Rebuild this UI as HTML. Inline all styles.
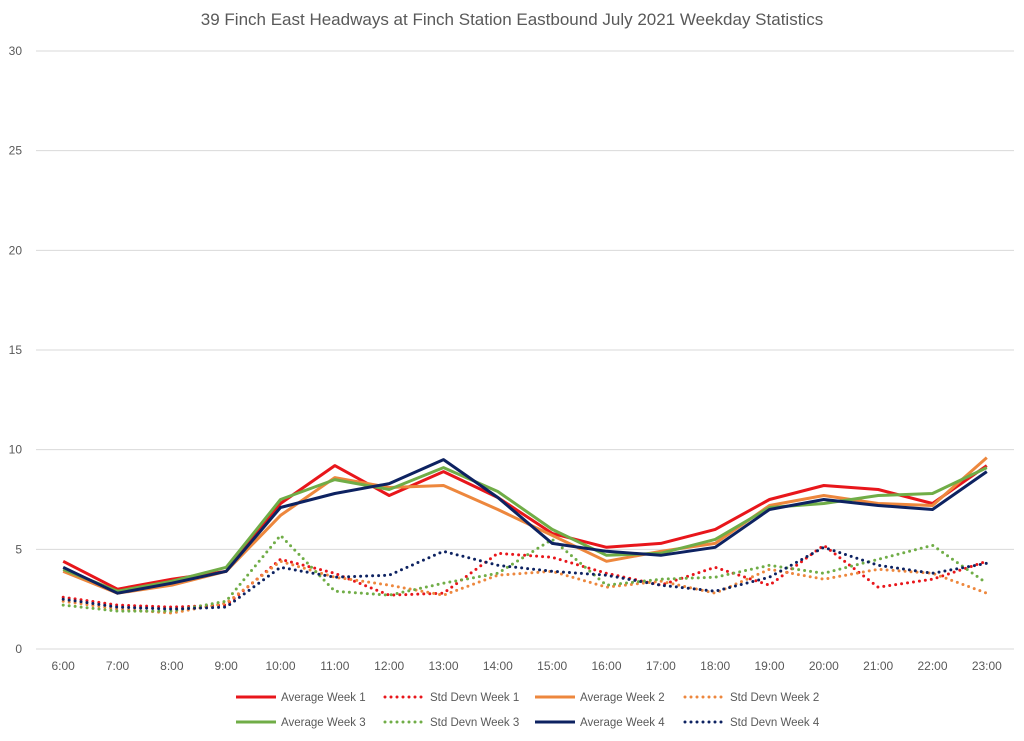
<!DOCTYPE html>
<html><head><meta charset="utf-8"><style>
body{margin:0;background:#fff;font-family:"Liberation Sans",sans-serif}
svg text{font-family:"Liberation Sans",sans-serif;fill:#595959}
</style></head><body>
<svg id="c" width="1024" height="736">
<text x="512" y="25" text-anchor="middle" font-size="17">39 Finch East Headways at Finch Station Eastbound July 2021 Weekday Statistics</text>
<g id="grid"></g><g id="series"></g><g id="legend"></g>
</svg>
<script>
const categories=["6:00","7:00","8:00","9:00","10:00","11:00","12:00","13:00","14:00","15:00","16:00","17:00","18:00","19:00","20:00","21:00","22:00","23:00"];
const yTicks=[0,5,10,15,20,25,30];
const avgW1=[4.4,3.0,3.5,3.9,7.3,9.2,7.7,8.9,7.6,5.8,5.1,5.3,6.0,7.5,8.2,8.0,7.3,9.2];
const avgW2=[3.9,2.8,3.2,3.9,6.7,8.6,8.1,8.2,7.0,5.7,4.4,4.9,5.3,7.2,7.7,7.3,7.2,9.6];
const avgW3=[4.0,2.9,3.4,4.1,7.5,8.5,8.0,9.1,7.9,6.0,4.7,4.8,5.5,7.1,7.3,7.7,7.8,9.1];
const avgW4=[4.1,2.8,3.3,3.9,7.1,7.8,8.3,9.5,7.6,5.3,4.9,4.7,5.1,7.0,7.5,7.2,7.0,8.9];
const sdW1=[2.6,2.2,2.1,2.2,4.5,3.8,2.7,2.8,4.8,4.6,3.8,3.2,4.1,3.2,5.2,3.1,3.5,4.4];
const sdW2=[2.4,2.0,1.8,2.3,4.4,3.6,3.2,2.7,3.7,3.9,3.1,3.4,2.8,4.0,3.5,4.0,3.8,2.8];
const sdW3=[2.2,1.9,1.9,2.4,5.7,2.9,2.7,3.3,3.8,5.5,3.2,3.5,3.6,4.2,3.8,4.5,5.2,3.3];
const sdW4=[2.5,2.1,2.0,2.1,4.1,3.6,3.7,4.9,4.2,3.9,3.7,3.2,2.9,3.6,5.1,4.2,3.8,4.3];
const NS="http://www.w3.org/2000/svg";
const x0=36,x1=1014,y0=649,yTop=51;
const xs=i=>x0+(x1-x0)/categories.length*(i+0.5);
const ys=v=>y0-(y0-yTop)*v/30;
function mk(t,a,p){const e=document.createElementNS(NS,t);for(const k in a)e.setAttribute(k,a[k]);p.appendChild(e);return e;}
const g=document.getElementById('grid');
yTicks.forEach(v=>{
 const l=mk('line',{x1:x0,x2:x1,y1:ys(v),y2:ys(v),stroke:'#d9d9d9','stroke-width':1},g);
 
 
 const t=mk('text',{x:22,y:ys(v)+4,'text-anchor':'end','font-size':12},g);t.textContent=v;
 
 
});
categories.forEach((c,i)=>{
 const t=mk('text',{x:xs(i),y:670,'text-anchor':'middle','font-size':12},g);t.textContent=c;
 
 
});
const series=[
 ["Average Week 1",avgW1,"#e8161b",false],["Std Devn Week 1",sdW1,"#e8161b",true],
 ["Average Week 2",avgW2,"#ed873d",false],["Std Devn Week 2",sdW2,"#ed873d",true],
 ["Average Week 3",avgW3,"#70ad47",false],["Std Devn Week 3",sdW3,"#70ad47",true],
 ["Average Week 4",avgW4,"#0d2261",false],["Std Devn Week 4",sdW4,"#0d2261",true]];
const sg=document.getElementById('series'),lg=document.getElementById('legend');
const lx=[236,385,535,685];
series.forEach((s,k)=>{
 const d=s[1].map((v,i)=>(i?'L':'M')+xs(i).toFixed(1)+','+ys(v).toFixed(1)).join(' ');
 const a={d:d,fill:'none',stroke:s[2],'stroke-width':3,'stroke-linejoin':'round'};
 if(s[3]){a['stroke-dasharray']='0 6';a['stroke-linecap']='round';}
 const p=mk('path',a,sg);
 
 
 const row=Math.floor(k/4),col=k%4,ly=697+row*25,xx=lx[col];
 const b={x1:xx,x2:xx+40,y1:ly,y2:ly,stroke:s[2],'stroke-width':3};
 if(s[3]){b['stroke-dasharray']='0 6';b['stroke-linecap']='round';}
 const ll=mk('line',b,lg);
 
 
 const t=mk('text',{x:xx+45,y:ly+4,'font-size':11.5},lg);t.textContent=s[0];
 
 
});
</script>
</body></html>
